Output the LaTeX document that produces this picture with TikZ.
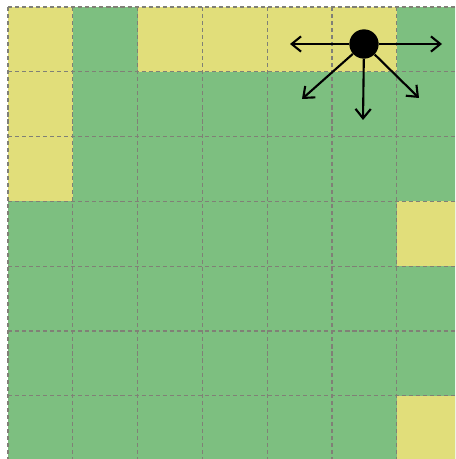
\documentclass[tikz,border=0pt]{standalone}
\usepackage{xcolor}
\usepackage{tikz}
\usetikzlibrary{arrows.meta}
\definecolor{cellgreen}{RGB}{125,191,128}
\definecolor{cellyellow}{RGB}{225,222,122}
\definecolor{gridgray}{RGB}{128,128,118}

\begin{document}
\begin{tikzpicture}[
  x=0.03cm, y=-0.03cm,
  freecell/.style={fill=cellgreen},
  wallcell/.style={fill=cellyellow},
  gridline/.style={draw=gridgray, line width=0.9pt, dash pattern=on 3.5pt off 2.5pt},
  robotdot/.style={circle, fill=black, inner sep=0pt, minimum size=0.88cm},
  move/.style={draw=black, line width=1.8pt, -{Straight Barb[length=8pt,width=13pt,line width=1.8pt]}}
]
  \useasboundingbox (0,0) rectangle (455,459);
  \clip (0,0) rectangle (455,459);
  % free cells everywhere, then the yellow ones on top (column/row)
  \foreach \c in {0,...,6} {
    \foreach \r in {0,...,6} {
      \fill[freecell] ({8+64.8*\c},{7+64.8*\r}) rectangle ++(64.8,64.8);
    }
  }
  \foreach \c/\r in {0/0,2/0,3/0,4/0,5/0,0/1,0/2,6/3,6/6} {
    \fill[wallcell] ({8+64.8*\c},{7+64.8*\r}) rectangle ++(64.8,64.8);
  }
  % dashed grid
  \foreach \i in {0,...,7} {
    \draw[gridline] ({8+64.8*\i},7) -- ({8+64.8*\i},459);
    \draw[gridline] (8,{7+64.8*\i}) -- (455,{7+64.8*\i});
  }
  % robot and its possible moves
  \node[robotdot] (robot) at (364,44) {};
  \coordinate (west) at (290,44);
  \coordinate (east) at (442,44);
  \coordinate (southwest) at (302,99);
  \coordinate (south) at (363,120);
  \coordinate (southeast) at (419,98);
  \foreach \t in {west,east,southwest,south,southeast}
    \draw[move] (robot) -- (\t);
\end{tikzpicture}
\end{document}
